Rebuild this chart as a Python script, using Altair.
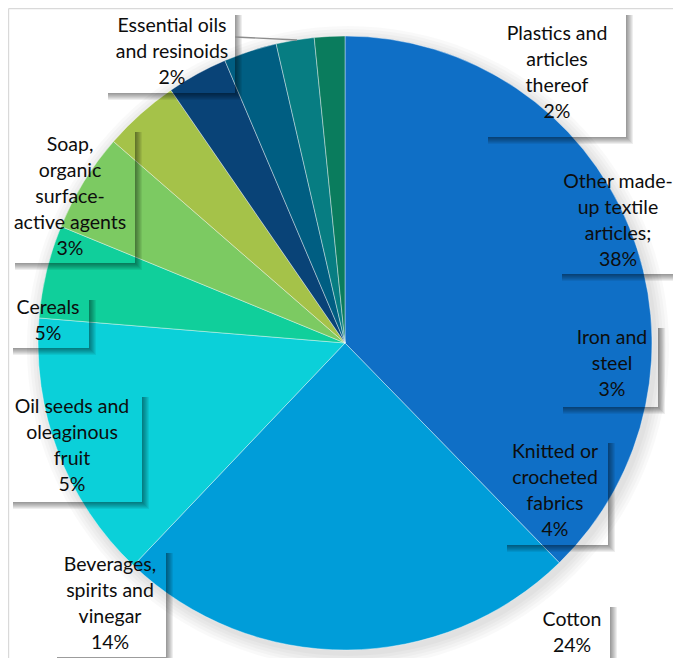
import altair as alt
import pandas as pd

# ---------------- data ----------------
categories = [
    "Other made-up textile articles",
    "Cotton",
    "Beverages, spirits and vinegar",
    "Oil seeds and oleaginous fruit",
    "Cereals",
    "Knitted or crocheted fabrics",
    "Iron and steel",
    "Soap, organic surface-active agents",
    "Essential oils and resinoids",
    "Plastics and articles thereof",
]
shares = [37.7, 24.4, 14.2, 4.9, 5.2, 4.0, 3.2, 2.8, 2.0, 1.6]
pct_labels = ["38%", "24%", "14%", "5%", "5%", "4%", "3%", "3%", "2%", "2%"]
label_names = [
    "Other made-\nup textile\narticles;",
    "Cotton",
    "Beverages,\nspirits and\nvinegar",
    "Oil seeds and\noleaginous\nfruit",
    "Cereals",
    "Knitted or\ncrocheted\nfabrics",
    "Iron and\nsteel",
    "Soap,\norganic\nsurface-\nactive agents",
    "Essential oils\nand resinoids",
    "Plastics and\narticles\nthereof",
]
colors = ["#0F6FC6", "#009DD9", "#0BD0D9", "#10CF9B", "#7CCA62",
          "#A5C249", "#094377", "#005E82", "#077D82", "#0A7C5D"]

# ---------------- layout (page pixels) ----------------
W, H = 665, 650
XMAX, YMAX = 8 + W, 8 + H
pie_cx, pie_cy, pie_r = 345, 343, 307
label_x = [618, 572, 110, 72, 48, 555, 612, 70, 172, 557]
label_y_first = [182, 620, 565, 407, 308, 452, 338, 145, 26, 34]
box_x1 = [557, 537, 52, 8, 8, 502, 558, 10, 103, 483]
box_y1 = [160, 602, 548, 392, 295, 438, 323, 127, 10, 10]
box_x2 = [690, 610, 166, 142, 89, 608, 658, 135, 235, 626]
box_y2 = [274, 690, 657, 502, 348, 545, 407, 263, 93, 137]

df = pd.DataFrame({
    "idx": list(range(len(categories))),
    "category": categories,
    "share": shares,
    "label": [f"{n}\n{p}" for n, p in zip(label_names, pct_labels)],
    "lx": label_x, "ly": label_y_first,
})

# soft box shadows (right and bottom edges), built from the box layout
rows = []
for x1, y1, x2, y2 in zip(box_x1, box_y1, box_x2, box_y2):
    for k in range(1, 8):
        if x2 < XMAX:
            rows.append({"sx1": x2, "sx2": min(x2 + k, XMAX),
                         "sy1": y1 + 5, "sy2": min(y2 + k, YMAX)})
        if y2 < YMAX:
            rows.append({"sx1": x1 + 5, "sx2": min(x2, XMAX),
                         "sy1": y2, "sy2": min(y2 + k, YMAX)})
shadow_df = pd.DataFrame(rows)

XS = alt.Scale(domain=[8, XMAX], nice=False, zero=False)
YS = alt.Scale(domain=[8, YMAX], nice=False, zero=False, reverse=True)

# faint halo behind the pie
halo_layers = []
for dr in (2, 5, 8, 11, 14):
    halo_layers.append(
        alt.Chart(pd.DataFrame({"v": [100.0]})).mark_arc(
            radius=pie_r + dr, color="black", opacity=0.025).encode(
            theta=alt.Theta("v:Q"),
            x=alt.value(pie_cx - 8 + 3), y=alt.value(pie_cy - 8 + 4))
    )

pie = alt.Chart(df).mark_arc(radius=pie_r, stroke="white", strokeWidth=0.4).encode(
    theta=alt.Theta("share:Q", stack=True),
    color=alt.Color("category:N", scale=alt.Scale(domain=categories, range=colors),
                    legend=None, sort=None),
    order=alt.Order("idx:Q"),
    x=alt.value(pie_cx - 8), y=alt.value(pie_cy - 8),
)

shadows = alt.Chart(shadow_df).mark_rect(color="black", opacity=0.065).encode(
    x=alt.X("sx1:Q", scale=XS, axis=None), x2="sx2:Q",
    y=alt.Y("sy1:Q", scale=YS, axis=None), y2="sy2:Q")

leader_df = pd.DataFrame({"x1": [235], "y1": [37], "x2": [297], "y2": [40]})
leader = alt.Chart(leader_df).mark_rule(color="#8c8c8c", strokeWidth=1.3).encode(
    x=alt.X("x1:Q", scale=XS, axis=None), x2="x2:Q",
    y=alt.Y("y1:Q", scale=YS, axis=None), y2="y2:Q")

frame_df = pd.DataFrame({"x1": [8.6, 8.6], "y1": [8.6, 8.6],
                         "x2": [XMAX, 8.6], "y2": [8.6, YMAX]})
frame = alt.Chart(frame_df).mark_rule(color="#D9D9D9", strokeWidth=1.2).encode(
    x=alt.X("x1:Q", scale=XS, axis=None), x2="x2:Q",
    y=alt.Y("y1:Q", scale=YS, axis=None), y2="y2:Q")

texts = alt.Chart(df).mark_text(font="Lato", fontSize=19.5, lineHeight=26, align="center",
                                baseline="middle", lineBreak="\n", color="#0d0d0d").encode(
    x=alt.X("lx:Q", scale=XS, axis=None),
    y=alt.Y("ly:Q", scale=YS, axis=None),
    text="label:N")

chart = alt.layer(frame, *halo_layers, pie, shadows, leader, texts).properties(
    width=W, height=H, padding=0,
    autosize=alt.AutoSizeParams(type="none"),
).configure_view(stroke=None)

chart.save("out.html", embed_options={"renderer": "svg", "actions": False})
